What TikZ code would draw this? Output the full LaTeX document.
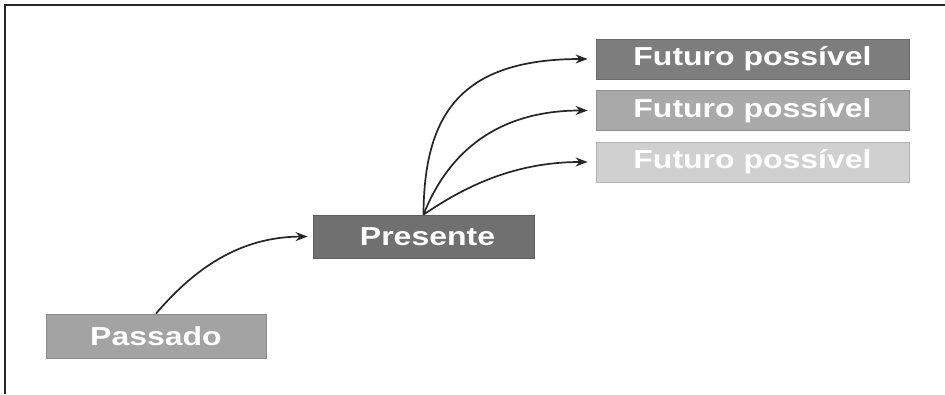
\documentclass[tikz,border=0pt]{standalone}
\usepackage{fontspec}
\usepackage{graphicx}
\newfontfamily\boxfont{Liberation Sans}[FakeStretch=1.23]
\usetikzlibrary{arrows.meta}
\definecolor{gF1}{HTML}{7D7D7D}
\definecolor{gF2}{HTML}{A9A9A9}
\definecolor{gF3}{HTML}{D0D0D0}
\definecolor{gPres}{HTML}{707070}
\definecolor{gPas}{HTML}{A3A3A3}
\tikzset{
  box/.style={draw=#1!85!black, fill=#1, line width=0.8pt, text=white, inner sep=0pt,
    font=\boxfont\bfseries\fontsize{26}{30}\selectfont},
  arr/.style={line width=1.7pt, draw=black!85, -{Stealth[length=12pt,width=9pt]}},
  frame/.style={line width=2.2pt, draw=black!85}
}
\begin{document}
\begin{tikzpicture}[x=1pt,y=-1pt]
\useasboundingbox (0,0) rectangle (945,394);
\fill[white] (0,0) rectangle (945,394);
\coordinate (fa) at (5,394);
\coordinate (fb) at (5,5);
\coordinate (fc) at (945,5);
\draw[frame] (fa) -- (fb) -- (fc);
\node[box=gF1, minimum width=313pt, minimum height=40pt] (f1) at (752.5,59) {Futuro possível};
\node[box=gF2, minimum width=313pt, minimum height=40pt] (f2) at (752.5,110.5) {Futuro possível};
\node[box=gF3, minimum width=313pt, minimum height=40pt] (f3) at (752.5,162) {Futuro possível};
\node[box=gPres, minimum width=221pt, minimum height=43pt] (pres) at (423.5,236.5) {\hspace{8pt}Presente};
\node[box=gPas, minimum width=220pt, minimum height=44pt] (pas) at (156,336) {Passado};
\draw[arr] (pas.north) .. controls (195,268) and (240,237) .. ([xshift=-5pt]pres.west);
\draw[arr] (pres.north) .. controls (424,115) and (460,59) .. ([xshift=-8pt]f1.west);
\draw[arr] (pres.north) .. controls (445,160) and (490,110.5) .. ([xshift=-8pt]f2.west);
\draw[arr] (pres.north) .. controls (460,190) and (510,162) .. ([xshift=-8pt]f3.west);
\end{tikzpicture}
\end{document}
